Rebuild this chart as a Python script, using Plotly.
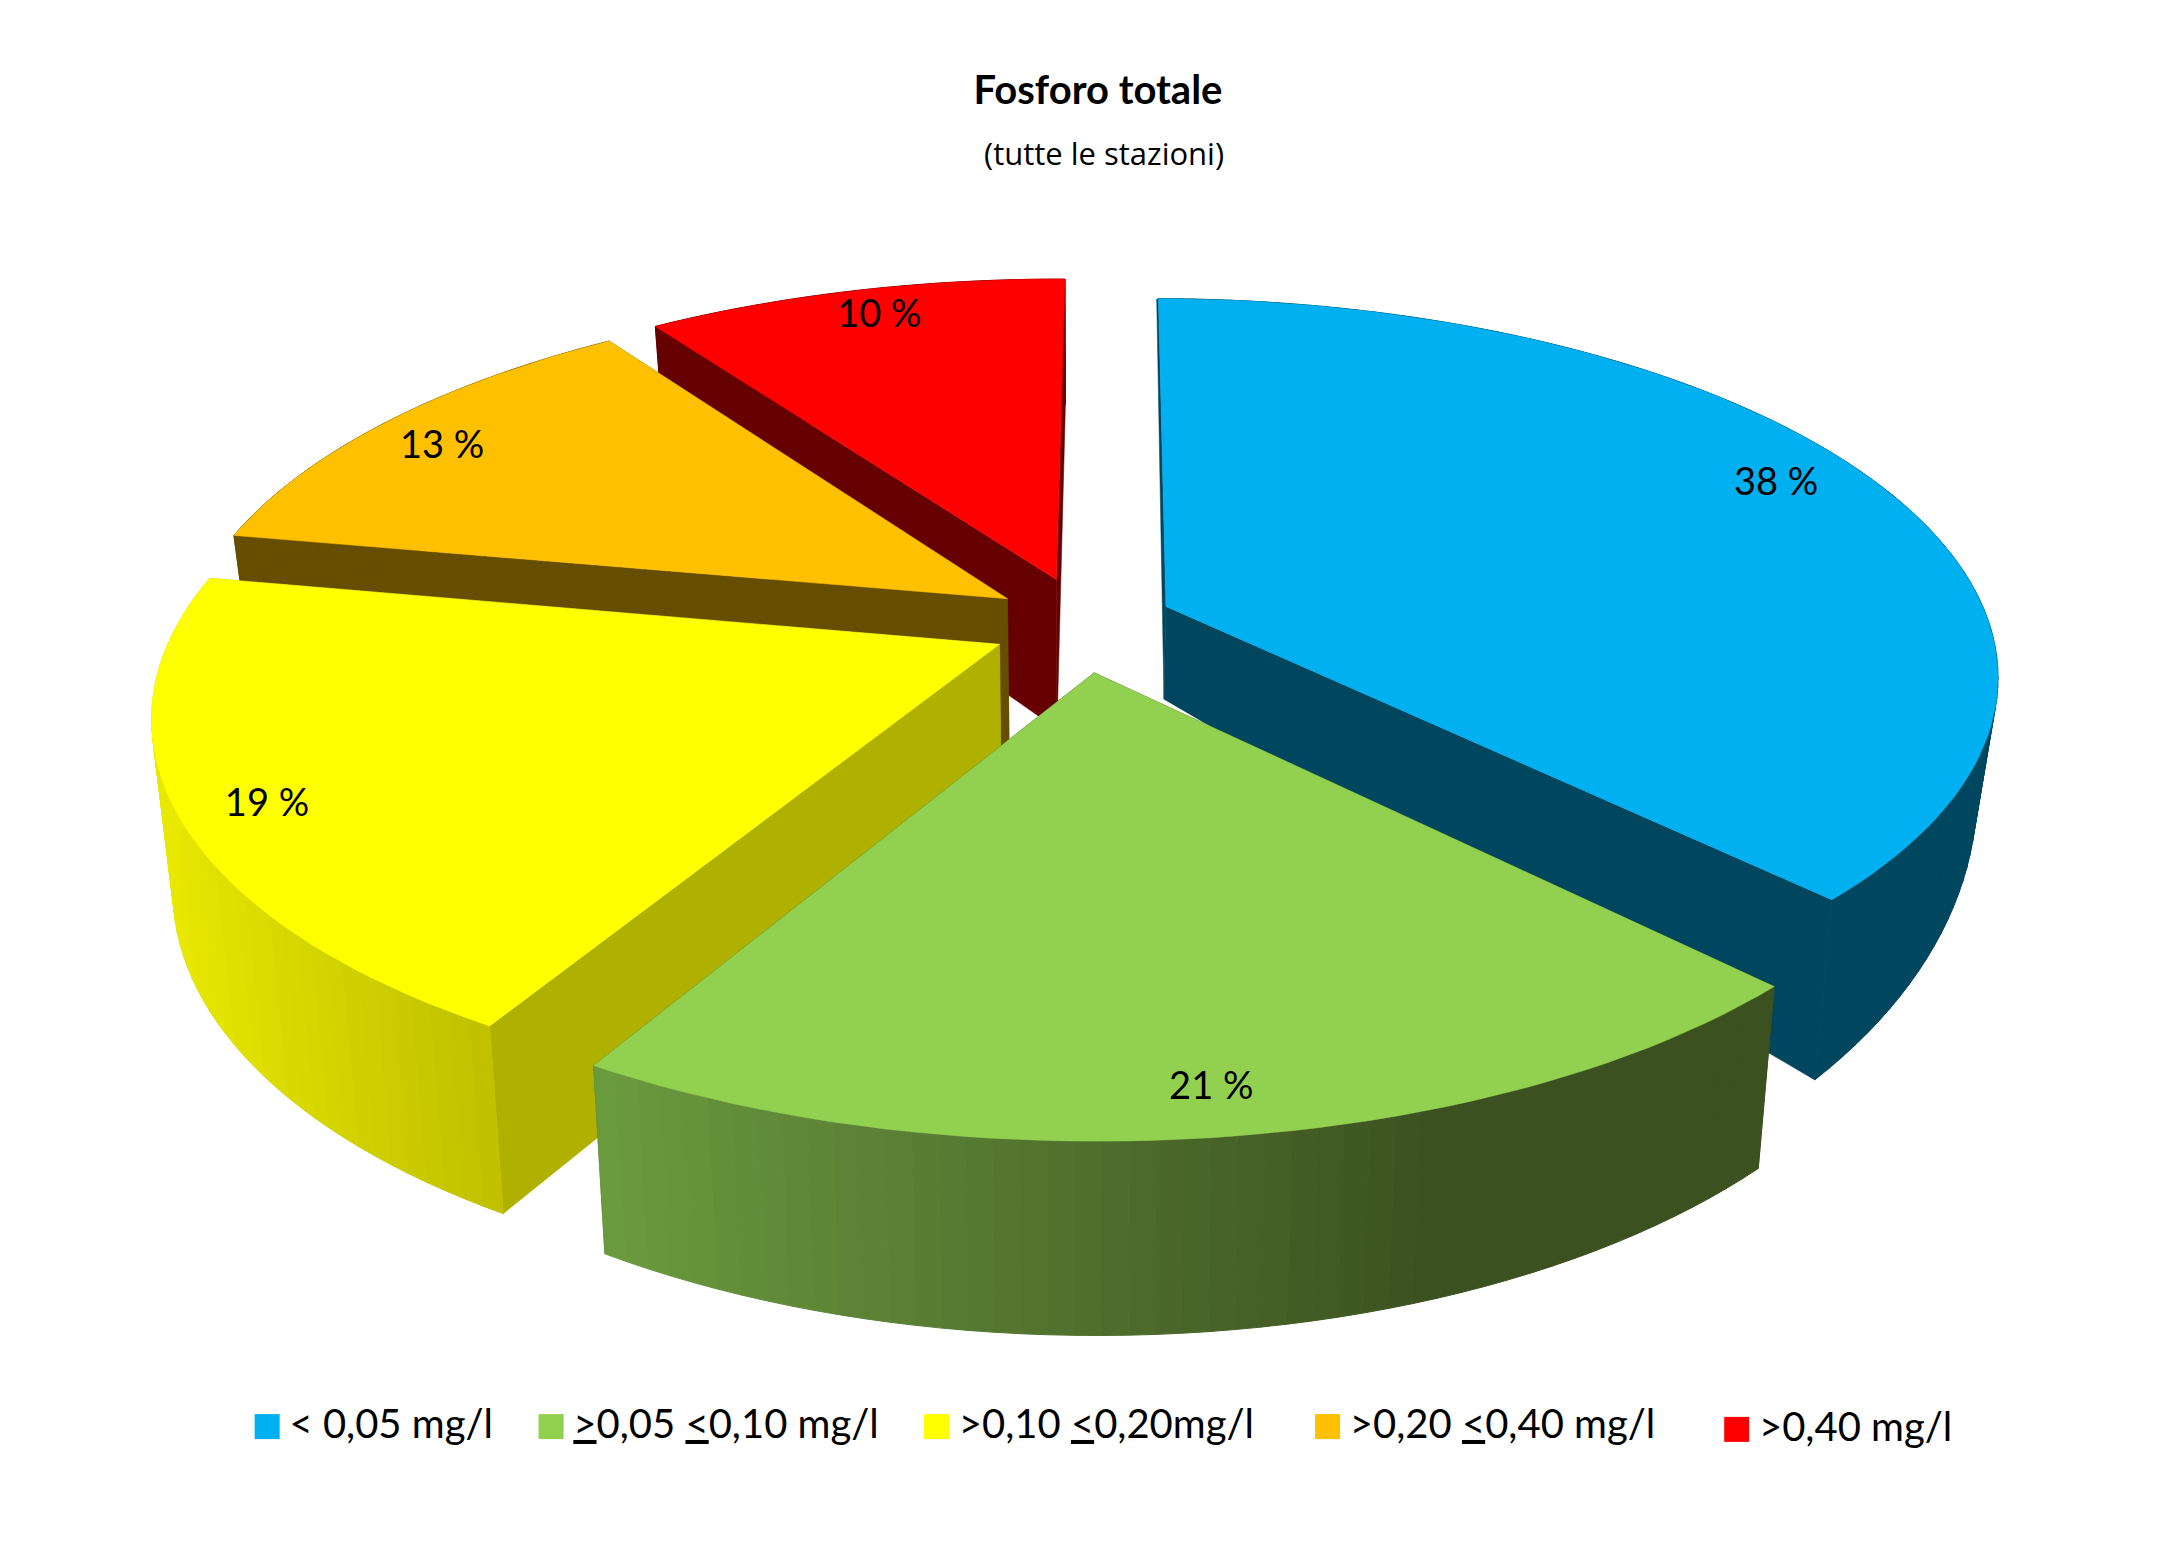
import math
import plotly.graph_objects as go

# ---- data ----
categories = ["&lt; 0,05 mg/l", "<u>&gt;</u>0,05 <u>&lt;</u>0,10 mg/l", "&gt;0,10 <u>&lt;</u>0,20mg/l",
              "&gt;0,20 <u>&lt;</u>0,40 mg/l", "&gt;0,40 mg/l"]
shares = [37.5, 20.8, 19.5, 12.4, 9.8]          # slice sizes as drawn
percent_labels = [38, 21, 19, 13, 10]           # rounded figures printed on the slices
top_colors = ["#00B0F0", "#92D050", "#FFFF00", "#FFC000", "#FF0000"]
side_colors = ["#00465F", "#3C5120", "#B0B000", "#664D00", "#660000"]
# outer wall shading: (x where shading starts, colour, x where it ends, colour)
wall_shades = [
    None,
    (431, (107, 155, 63), 1040, (60, 81, 32)),
    (115, (232, 232, 0), 355, (192, 192, 0)),
    None,
    None,
]
legend_x = [183, 387, 664, 945, 1239]
legend_y = [1026, 1026, 1026, 1026, 1028]

# ---- projection of the exploded tilted pie (units of a 1568 x 1123 canvas) ----
W, H = 1568, 1123
CX, CY, RX, RY, PERSP = 778, 448.5, 592, 264, 0.175
ROTATION = 0.4
EXPLODE_U, EXPLODE_V = 0.11, 0.13
BOTTOM_KX = 0.977
label_r = [0.875, 0.915, 0.905, 0.88, 0.89]
label_turn = [-1.9, 0.0, -1.7, -2.0, 0.5]
# wall height at screen y=400 and y=800, per slice
wall_h = [(56, 175), (106, 138), (118, 138), (106, 138), (106, 138)]


def project(u, v):
    s = 1 / (1 - PERSP * v)
    return CX + RX * u * s, CY + RY * v * s


def polar(angle_deg, r, mid_deg):
    a, m = math.radians(angle_deg), math.radians(mid_deg)
    return project(r * math.sin(a) + EXPLODE_U * math.sin(m), -r * math.cos(a) - EXPLODE_V * math.cos(m))


def lower(pt, hh):
    x, y = pt
    return CX + (x - CX) * BOTTOM_KX, y + hh[0] + (hh[1] - hh[0]) * (y - 400) / 400


def poly(pts, color, name=None, seam=False):
    xs = [p[0] for p in pts] + [pts[0][0]]
    ys = [p[1] for p in pts] + [pts[0][1]]
    return go.Scatter(x=xs, y=ys, mode="lines", fill="toself", fillcolor=color,
                      line=dict(color=color, width=1 if seam else 0.5),
                      hoverinfo="skip", showlegend=False, name=name)


total = sum(shares)
starts, ends, acc = [], [], 0.0
for v in shares:
    starts.append(ROTATION + acc / total * 360)
    acc += v
    ends.append(ROTATION + acc / total * 360)

fig = go.Figure()
# painter's order, back to front
for i in [4, 3, 0, 2, 1]:
    a0, a1 = starts[i], ends[i]
    mid = (a0 + a1) / 2
    n = max(int((a1 - a0) / 1.5), 4)
    rim = [polar(a0 + (a1 - a0) * k / n, 1, mid) for k in range(n + 1)]
    apex = polar(mid, 0, mid)
    hh = wall_h[i]
    low_rim = [lower(p, hh) for p in rim]
    low_apex = lower(apex, hh)
    # side walls
    fig.add_trace(poly([apex, rim[0], low_rim[0], low_apex], side_colors[i]))
    fig.add_trace(poly([apex, rim[-1], low_rim[-1], low_apex], side_colors[i]))
    # outer wall, split in shaded strips
    for k in range(n):
        col = side_colors[i]
        if wall_shades[i]:
            x0, c0, x1, c1 = wall_shades[i]
            t = min(max((rim[k][0] - x0) / (x1 - x0), 0), 1)
            col = "rgb(%d,%d,%d)" % tuple(round(c0[j] + (c1[j] - c0[j]) * t) for j in range(3))
        fig.add_trace(poly([rim[k], rim[k + 1], low_rim[k + 1], low_rim[k]], col, seam=True))
    # top face
    fig.add_trace(poly([apex] + rim, top_colors[i], name=categories[i]))

# percent labels
for i, p in enumerate(percent_labels):
    mid = (starts[i] + ends[i]) / 2
    x, y = polar(mid + label_turn[i], label_r[i], mid)
    fig.add_trace(go.Scatter(x=[x], y=[y], mode="text", text=[f"{p} %"],
                             textposition="middle center", showlegend=False, hoverinfo="skip",
                             textfont=dict(family="Lato", size=38, color="#000000")))

# legend
for i, c in enumerate(categories):
    fig.add_trace(go.Scatter(x=[legend_x[i] + 9], y=[legend_y[i] - 1], mode="markers", name=c,
                             marker=dict(symbol="square", size=25, color=top_colors[i], line_width=0),
                             showlegend=False, hoverinfo="name"))
    fig.add_trace(go.Scatter(x=[legend_x[i] + 25], y=[legend_y[i]], mode="text", text=[c],
                             textposition="middle right", showlegend=False, hoverinfo="skip",
                             textfont=dict(family="Lato", size=40, color="#000000")))

fig.update_layout(
    width=2182, height=1563, margin=dict(l=0, r=0, t=0, b=0),
    paper_bgcolor="#FFFFFF", plot_bgcolor="#FFFFFF", showlegend=False,
    xaxis=dict(range=[0, W], visible=False, fixedrange=True),
    yaxis=dict(range=[H, 0], visible=False, fixedrange=True),
    title=dict(text="<b>Fosforo totale</b>", x=789 / W, xanchor="center",
               y=1 - 65 / H, yanchor="middle",
               font=dict(family="Lato", size=40, color="#000000")),
    annotations=[dict(text="(tutte le stazioni)", x=793 / W, y=1 - 110 / H, xref="paper", yref="paper",
                      xanchor="center", yanchor="middle", showarrow=False,
                      font=dict(family="Open Sans", size=31, color="#000000"))],
)
fig.write_html("out.html", config=dict(displayModeBar=False),
               post_script="document.body.style.margin='0';")
